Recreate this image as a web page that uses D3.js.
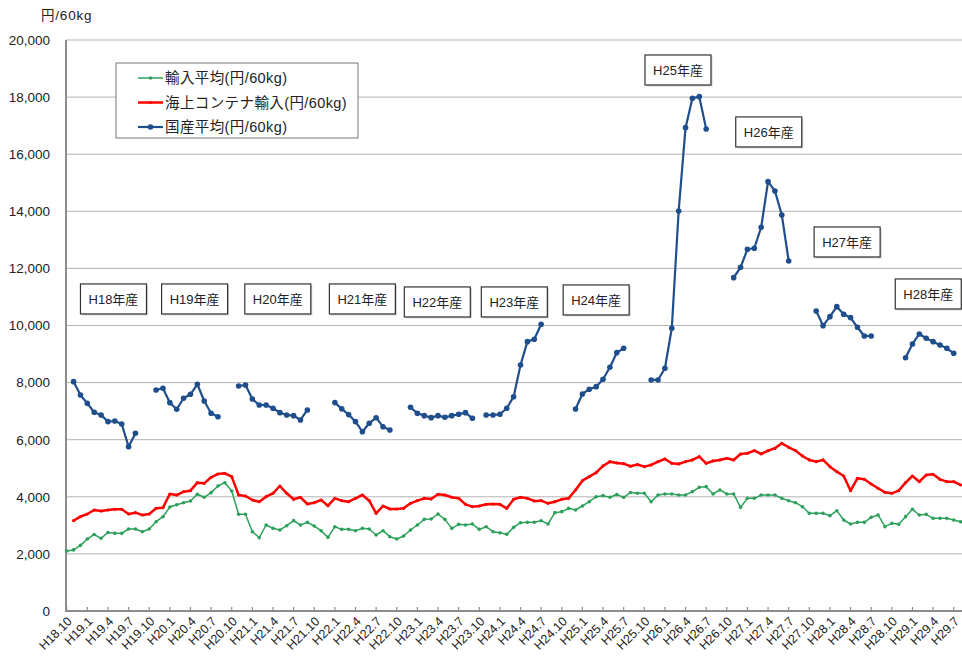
<!DOCTYPE html>
<html><head><meta charset="utf-8">
<script src="https://cdn.jsdelivr.net/npm/d3@7"></script>
<style>
html,body{margin:0;padding:0;background:#fff;}
svg text{font-family:"Liberation Sans",Arial,"Noto Sans CJK JP",sans-serif;}
</style></head>
<body><svg id="c" width="962" height="659"></svg>
<script>
// ---- data ----
const tickLabels = ["H18.10","H19.1","H19.4","H19.7","H19.10","H20.1","H20.4","H20.7","H20.10","H21.1","H21.4","H21.7","H21.10","H22.1","H22.4","H22.7","H22.10","H23.1","H23.4","H23.7","H23.10","H24.1","H24.4","H24.7","H24.10","H25.1","H25.4","H25.7","H25.10","H26.1","H26.4","H26.7","H26.10","H27.1","H27.4","H27.7","H27.10","H28.1","H28.4","H28.7","H28.10","H29.1","H29.4","H29.7"];
const yTicks = [0,2000,4000,6000,8000,10000,12000,14000,16000,18000,20000];
const seriesNames = ["輸入平均(円/60kg)","海上コンテナ輸入(円/60kg)","国産平均(円/60kg)"];
const yTitle = "円/60kg";
// monthly values, index 0 = H18.10
const importAvg = [2100,2140,2300,2520,2680,2546,2750,2720,2720,2872,2872,2778,2872,3128,3303,3640,3720,3794,3853,4088,3983,4145,4380,4494,4204,3387,3387,2778,2570,3012,2896,2837,2988,3164,3012,3105,2977,2813,2580,2953,2860,2860,2813,2895,2872,2662,2813,2603,2522,2627,2837,3012,3210,3222,3398,3210,2895,3035,3012,3047,2860,2953,2778,2743,2685,2930,3093,3105,3105,3163,3047,3444,3479,3596,3538,3678,3829,4004,4040,3983,4080,3980,4150,4122,4122,3829,4063,4098,4098,4063,4063,4180,4332,4355,4098,4239,4098,4098,3631,3947,3947,4063,4063,4063,3947,3864,3794,3654,3421,3421,3421,3339,3514,3188,3047,3105,3105,3281,3363,2953,3070,3035,3304,3562,3363,3386,3246,3246,3246,3188,3128];
const containerImport = [null,3164,3304,3398,3538,3503,3538,3561,3561,3398,3444,3363,3398,3596,3619,4098,4063,4180,4215,4495,4471,4683,4799,4823,4706,4063,4028,3888,3829,4004,4122,4379,4122,3912,3983,3748,3794,3888,3689,3947,3864,3829,3947,4063,3864,3421,3678,3573,3573,3596,3771,3864,3947,3923,4087,4063,3983,3947,3736,3654,3678,3736,3748,3736,3596,3912,3983,3947,3853,3864,3771,3829,3912,3947,4239,4565,4706,4846,5080,5231,5185,5160,5070,5130,5056,5115,5231,5325,5173,5150,5231,5290,5406,5173,5255,5290,5348,5290,5500,5524,5617,5500,5617,5699,5874,5734,5617,5430,5290,5231,5290,5056,4881,4729,4215,4648,4612,4449,4298,4157,4122,4215,4495,4729,4530,4764,4788,4612,4530,4530,4414];
const domesticAvg = [null,8033,7567,7274,6960,6866,6632,6656,6551,5756,6224,null,null,7742,7801,7297,7066,7451,7591,7941,7356,6925,6806,null,null,7882,7917,7426,7216,7216,7100,6948,6866,6843,6691,7041,null,null,null,7300,7080,6880,6632,6281,6574,6771,6456,6340,null,null,7134,6925,6843,6773,6843,6784,6843,6890,6948,6750,null,6866,6866,6890,7100,7507,8617,9434,9518,10043,null,null,null,null,7076,7602,7766,7858,8116,8536,9049,9201,null,null,null,8092,8092,8501,9903,14012,16930,17960,18016,16885,null,null,null,11676,12039,12670,12705,13441,15039,14713,13872,12260,null,null,null,10509,9995,10310,10660,10393,10275,9938,9633,9633,null,null,null,null,8873,9353,9703,9553,9434,9318,9201,9026,null];
// crop-year annotations: label, month index and value of box centre
const cropLabels = ["H18年産","H19年産","H20年産","H21年産","H22年産","H23年産","H24年産","H25年産","H26年産","H27年産","H28年産"];
const cropAt = [6.8,18.6,30.7,43.0,53.9,65.1,77.0,88.9,102.1,113.5,125.3];
const cropVal = [10930,10930,10930,10930,10825,10825,10895,18950,16780,12926,11105];

// ---- chart ----
const svg = d3.select("#c");
const x = d3.scaleLinear().domain([0, 130]).range([66.7, 66.7 + 130*6.876]);
const y = d3.scaleLinear().domain([0, 20000]).range([611, 40]);
const colors = ["#2ca05a","#ff0000","#1f4e8c"];

// gridlines
svg.append("g").selectAll("line").data(yTicks.filter(d=>d>0)).join("line")
  .attr("x1",66).attr("x2",962).attr("y1",d=>y(d)).attr("y2",d=>y(d))
  .attr("stroke","#b4b4b4").attr("stroke-width",1);

// y axis labels
svg.append("g").selectAll("text").data(yTicks).join("text")
  .attr("x",50).attr("y",d=>y(d)).attr("dy","0.36em").attr("text-anchor","end")
  .attr("font-size",13.5).attr("fill","#222").text(d=>d3.format(",")(d));
svg.append("text").attr("x",41).attr("y",20).attr("font-size",13.5).attr("letter-spacing",0.8).attr("fill","#222").text(yTitle);

// axes lines
svg.append("line").attr("x1",66).attr("x2",66).attr("y1",40).attr("y2",612).attr("stroke","#8c8c8c").attr("stroke-width",2);
svg.append("line").attr("x1",65).attr("x2",962).attr("y1",611).attr("y2",611).attr("stroke","#8c8c8c").attr("stroke-width",2);

// x ticks + labels
const tg = svg.append("g");
tickLabels.forEach((t,k)=>{
  const xx = x(k*3);
  tg.append("line").attr("x1",xx).attr("x2",xx).attr("y1",607).attr("y2",611).attr("stroke","#8c8c8c").attr("stroke-width",1.2);
  tg.append("text").attr("transform",`translate(${xx+3},${619}) rotate(-45)`)
    .attr("text-anchor","end").attr("dy","0.35em").attr("font-size",12.5).attr("fill","#222").text(t);
});

// series
const all = [importAvg, containerImport, domesticAvg];
const widths = [1.5, 2.5, 2.2];
const radii = [1.8, 1.6, 2.8];
all.forEach((arr,s)=>{
  const line = d3.line().defined(d=>d!=null).x((d,i)=>x(i)).y(d=>y(d));
  svg.append("path").datum(arr).attr("d",line).attr("fill","none")
    .attr("stroke",colors[s]).attr("stroke-width",widths[s]).attr("stroke-linejoin","round");
  svg.append("g").selectAll("circle").data(arr.map((v,i)=>({v,i})).filter(d=>d.v!=null)).join("circle")
    .attr("cx",d=>x(d.i)).attr("cy",d=>y(d.v)).attr("r",radii[s]).attr("fill",colors[s]);
});

// crop-year boxes
cropLabels.forEach((t,k)=>{
  const cx = x(cropAt[k]), cy = y(cropVal[k]);
  const w = 66, h = 30;
  svg.append("rect").attr("x",cx-w/2+1.5).attr("y",cy-h/2+1.5).attr("width",w).attr("height",h).attr("fill","#d0d0d0");
  svg.append("rect").attr("x",cx-w/2).attr("y",cy-h/2).attr("width",w).attr("height",h).attr("fill","#fff").attr("stroke","#333").attr("stroke-width",1.2);
  svg.append("text").attr("x",cx).attr("y",cy).attr("dy","0.36em").attr("text-anchor","middle").attr("font-size",13).attr("fill","#222").text(t);
});

// legend
const lg = svg.append("g");
lg.append("rect").attr("x",116).attr("y",63).attr("width",242).attr("height",75).attr("fill","#fff").attr("stroke","#777").attr("stroke-width",1);
seriesNames.forEach((t,k)=>{
  const yy = 78 + k*24.5;
  lg.append("line").attr("x1",138).attr("x2",163).attr("y1",yy).attr("y2",yy).attr("stroke",colors[k]).attr("stroke-width",widths[k]);
  lg.append("circle").attr("cx",150.5).attr("cy",yy).attr("r",radii[k]).attr("fill",colors[k]);
  lg.append("text").attr("x",165).attr("y",yy).attr("dy","0.36em").attr("font-size",14.5).attr("letter-spacing",0.4).attr("fill","#222").text(t);
});
</script></body></html>
